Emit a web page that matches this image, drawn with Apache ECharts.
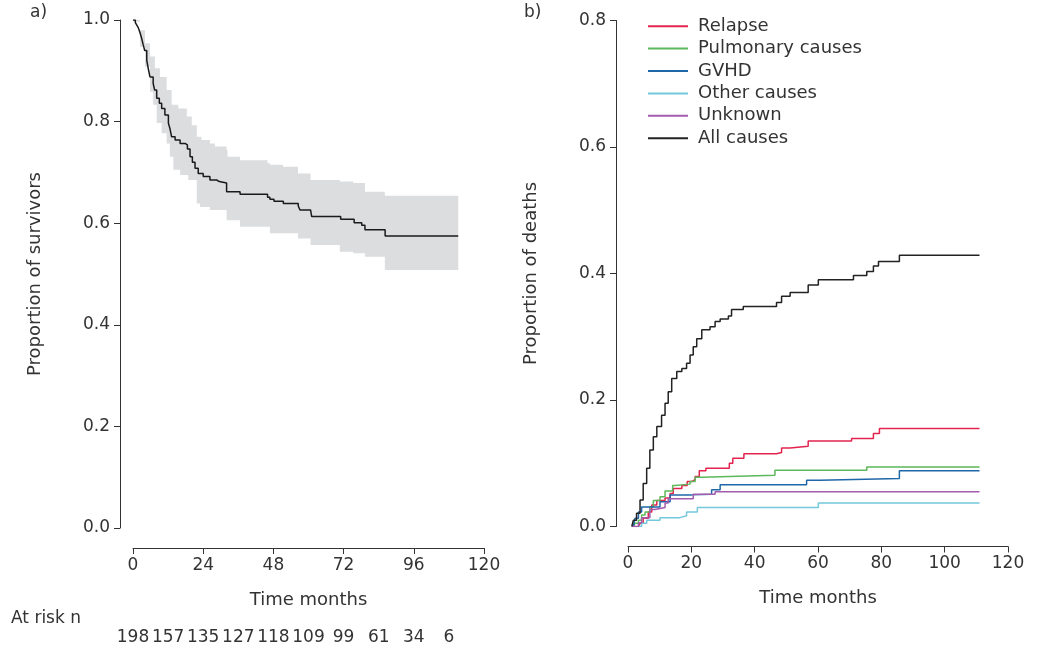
<!DOCTYPE html>
<html>
<head>
<meta charset="utf-8">
<script src="https://cdn.jsdelivr.net/npm/echarts@6/dist/echarts.min.js"></script>
<style>
  html, body { margin: 0; padding: 0; background: #fff; }
  #container { width: 1037px; height: 650px; }
</style>
</head>
<body>
<div id="container"></div>
<script>
// a) Kaplan-Meier survival, months / proportion
var kmTime = [0, 0.8, 1.3, 1.8, 2.4, 2.9, 3.5, 4.0, 4.7, 5.2, 5.8, 6.9, 7.4, 8.1, 9.0, 9.8, 10.9, 12.1, 12.6, 13.2,
    14.4, 16.1, 17.8, 18.6, 19.5, 20.3, 21.2, 22.3, 24.0, 26.3, 28.6, 29.5, 32.0, 36.6, 46.0, 46.8, 48.2, 51.4,
    56.5, 57.1, 60.7, 61.1, 71.0, 75.6, 78.2, 79.3, 86.2, 111.2];
var kmSurv = [1.0, 0.995, 0.99, 0.985, 0.975, 0.965, 0.951, 0.94, 0.921, 0.905, 0.888, 0.875, 0.862, 0.846, 0.836,
    0.826, 0.813, 0.797, 0.787, 0.770, 0.764, 0.757, 0.754, 0.746, 0.731, 0.720, 0.708, 0.698, 0.692, 0.685, 0.682,
    0.679, 0.662, 0.657, 0.651, 0.647, 0.643, 0.639, 0.634, 0.626, 0.623, 0.613, 0.608, 0.601, 0.596, 0.587, 0.575, 0.575];

// confidence band
var ciTime = [0, 2.4, 4.1, 5.8, 6.9, 7.5, 8.1, 9.2, 9.8, 11.5, 12.6, 13.2, 13.8, 15.5, 16.1, 18.4, 18.9, 20.1, 21.8,
    22.9, 23.4, 26.3, 28, 32, 32.3, 36.6, 46, 46.8, 51.3, 56.4, 60.7, 70.7, 75.3, 79.3, 86.1, 111.2];
var ciUpper = [1.0, 0.98, 0.954, 0.928, 0.928, 0.905, 0.905, 0.888, 0.888, 0.862, 0.862, 0.833, 0.833, 0.826, 0.826,
    0.81, 0.81, 0.793, 0.77, 0.77, 0.764, 0.757, 0.751, 0.744, 0.731, 0.724, 0.718, 0.715, 0.711, 0.698, 0.685,
    0.682, 0.679, 0.662, 0.654, 0.654];
var ciLower = [0.997, 0.947, 0.908, 0.859, 0.833, 0.833, 0.797, 0.797, 0.777, 0.757, 0.731, 0.731, 0.705, 0.705,
    0.695, 0.695, 0.685, 0.685, 0.639, 0.632, 0.632, 0.626, 0.626, 0.606, 0.606, 0.593, 0.593, 0.58, 0.58, 0.57,
    0.557, 0.544, 0.541, 0.534, 0.508, 0.508];

var atRiskMonths = [0, 12, 24, 36, 48, 60, 72, 84, 96, 108];
var atRisk = [198, 157, 135, 127, 118, 109, 99, 61, 34, 6];

// b) cumulative incidence of death by cause
var causeNames = ['Relapse', 'Pulmonary causes', 'GVHD', 'Other causes', 'Unknown', 'All causes'];
var causeColors = ['#e2244f', '#5cb85a', '#1f67a8', '#74c8dc', '#a35cae', '#222222'];

var relapseTime = [3.3, 3.8, 4.8, 6.4, 7.5, 9.1, 11.7, 13.3, 14.3, 17, 18.7, 20.1, 21.2, 22.5, 24.6, 32, 33.1, 36.6,
    46.9, 48.5, 51.2, 56.9, 70.6, 77.5, 79.4, 111];
var relapseVal = [0, 0.005, 0.013, 0.023, 0.034, 0.041, 0.045, 0.052, 0.06, 0.065, 0.071, 0.074, 0.079, 0.088, 0.092,
    0.1, 0.108, 0.115, 0.117, 0.124, 0.127, 0.135, 0.139, 0.147, 0.155, 0.155];

var pulmTime = [1.7, 2.2, 3.3, 4.3, 5.4, 6.9, 8, 10.1, 11.7, 14.1, 14.8, 19.6, 21.2, 23.3, 46.4, 75.4, 111];
var pulmVal = [0, 0.005, 0.01, 0.018, 0.023, 0.031, 0.041, 0.047, 0.056, 0.065, 0.067, 0.071, 0.078, 0.081, 0.089,
    0.094, 0.094];

var gvhdTime = [1.7, 2.2, 3.3, 4.3, 10.1, 13.3, 20.1, 26.4, 29.1, 56.4, 60.6, 85.7, 111];
var gvhdVal = [0, 0.013, 0.023, 0.031, 0.039, 0.05, 0.051, 0.058, 0.066, 0.073, 0.076, 0.088, 0.088];

var otherTime = [3.3, 4.3, 5.9, 10.1, 16.4, 18.5, 21.9, 60.1, 111];
var otherVal = [0, 0.005, 0.01, 0.014, 0.017, 0.023, 0.03, 0.037, 0.037];

var unknownTime = [1.2, 3.3, 4.3, 6.9, 8.5, 11.7, 12.7, 20.6, 27.5, 111];
var unknownVal = [0, 0.006, 0.014, 0.027, 0.03, 0.037, 0.044, 0.051, 0.055, 0.055];

var allTime = [1.2, 1.7, 2.7, 3.8, 4.8, 5.9, 6.9, 8, 9.1, 10.6, 11.7, 12.7, 13.8, 15.4, 17, 18.5, 19.6, 20.6, 21.7,
    23.3, 25.9, 27.5, 29.1, 31.7, 32.7, 36.4, 46.9, 48.5, 51.2, 56.9, 60.1, 71.2, 75.4, 77.5, 79.1, 85.7, 111];
var allVal = [0, 0.01, 0.021, 0.042, 0.068, 0.092, 0.121, 0.142, 0.158, 0.176, 0.195, 0.213, 0.234, 0.245, 0.25,
    0.258, 0.271, 0.284, 0.297, 0.311, 0.316, 0.324, 0.328, 0.333, 0.343, 0.348, 0.354, 0.364, 0.37, 0.382, 0.39,
    0.397, 0.403, 0.412, 0.419, 0.429, 0.429];

var causeData = [[relapseTime, relapseVal], [pulmTime, pulmVal], [gvhdTime, gvhdVal], [otherTime, otherVal],
    [unknownTime, unknownVal], [allTime, allVal]];

function pairs(xs, ys) {
    return xs.map(function (x, i) { return [x, ys[i]]; });
}

var FONT = 'DejaVu Sans';
var TXT = '#333';
var AX = '#333';

function yAxisOpt(grid, max, offset, name) {
    return {
        type: 'value', gridIndex: grid, min: 0, max: max, interval: 0.2, offset: offset,
        name: name, nameLocation: 'middle', nameGap: 76,
        nameTextStyle: {fontFamily: FONT, fontSize: 18, color: TXT},
        axisLine: {show: true, onZero: false, lineStyle: {color: AX, width: 1}},
        axisTick: {show: true, length: 6, lineStyle: {color: AX}},
        axisLabel: {fontFamily: FONT, fontSize: 17, color: TXT, margin: 10,
            formatter: function (v) { return v.toFixed(1); }},
        splitLine: {show: false}
    };
}

function xAxisOpt(grid, interval) {
    return {
        type: 'value', gridIndex: grid, min: 0, max: 120, interval: interval, offset: 20,
        name: 'Time months', nameLocation: 'middle', nameGap: 43,
        nameTextStyle: {fontFamily: FONT, fontSize: 18, color: TXT},
        axisLine: {show: true, onZero: false, lineStyle: {color: AX, width: 1}},
        axisTick: {show: true, length: 6, lineStyle: {color: AX}},
        axisLabel: {fontFamily: FONT, fontSize: 17, color: TXT, margin: 9},
        splitLine: {show: false}
    };
}

// step-shaped polygon between ciUpper and ciLower
function renderBand(params, api) {
    var top = [], bottom = [];
    for (var i = 0; i < ciTime.length; i++) {
        var tNext = i + 1 < ciTime.length ? ciTime[i + 1] : ciTime[i];
        top.push(api.coord([ciTime[i], ciUpper[i]]));
        top.push(api.coord([tNext, ciUpper[i]]));
        bottom.push(api.coord([ciTime[i], ciLower[i]]));
        bottom.push(api.coord([tNext, ciLower[i]]));
    }
    return {
        type: 'polygon',
        shape: {points: top.concat(bottom.reverse())},
        style: {fill: '#dcdddf', stroke: null}
    };
}

var dom = document.getElementById('container');
var myChart = echarts.init(dom, null, {renderer: 'canvas'});

var series = [
    {
        name: 'band', type: 'custom', xAxisIndex: 0, yAxisIndex: 0, silent: true,
        renderItem: renderBand, data: [[0, 0]], z: 1
    },
    {
        name: 'Survival', type: 'line', xAxisIndex: 0, yAxisIndex: 0, step: 'end',
        symbol: 'none', lineStyle: {color: '#1a1a1a', width: 1.5},
        data: pairs(kmTime, kmSurv), z: 3
    }
];

causeNames.forEach(function (n, i) {
    series.push({
        name: n, type: 'line', xAxisIndex: 1, yAxisIndex: 1, step: 'end',
        symbol: 'none', color: causeColors[i],
        lineStyle: {color: causeColors[i], width: 1.5},
        data: pairs(causeData[i][0], causeData[i][1])
    });
});

var option = {
    animation: false,
    backgroundColor: '#fff',
    textStyle: {fontFamily: FONT},
    grid: [
        {left: 133, top: 20, width: 351, height: 508},
        {left: 628, top: 20.5, width: 380, height: 506}
    ],
    xAxis: [
        xAxisOpt(0, 24),
        xAxisOpt(1, 20),
        {
            // at-risk numbers under panel a
            type: 'value', gridIndex: 0, min: 0, max: 120, interval: 12, offset: 100, position: 'bottom',
            axisLine: {show: false, onZero: false}, axisTick: {show: false}, splitLine: {show: false},
            axisLabel: {fontFamily: FONT, fontSize: 17, color: TXT, margin: 1,
                formatter: function (v) {
                    var k = atRiskMonths.indexOf(v);
                    return k < 0 ? '' : String(atRisk[k]);
                }}
        }
    ],
    yAxis: [
        yAxisOpt(0, 1.0, 13, 'Proportion of survivors'),
        yAxisOpt(1, 0.8, 12, 'Proportion of deaths')
    ],
    legend: {
        data: causeNames.map(function (n) { return {name: n, icon: 'rect'}; }),
        orient: 'vertical', left: 648, top: 15, padding: 0,
        itemWidth: 40, itemHeight: 2, itemGap: 0,
        selectedMode: false,
        textStyle: {fontFamily: FONT, fontSize: 18, color: TXT, lineHeight: 22.4, padding: [0, 0, 0, 5]}
    },
    graphic: [
        {type: 'text', left: 30, top: 4, style: {text: 'a)', fontFamily: FONT, fontSize: 17, fill: TXT}},
        {type: 'text', left: 524, top: 4, style: {text: 'b)', fontFamily: FONT, fontSize: 17, fill: TXT}},
        {type: 'text', left: 11, top: 610, style: {text: 'At risk n', fontFamily: FONT, fontSize: 17, fill: TXT}}
    ],
    series: series
};

myChart.setOption(option, true);
</script>
</body>
</html>
